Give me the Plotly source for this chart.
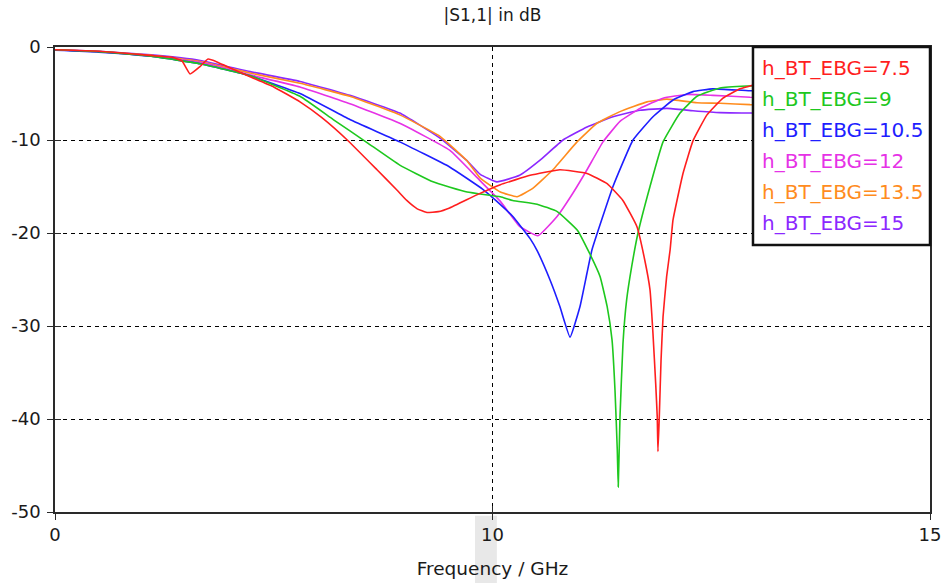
import plotly.graph_objects as go

# |S1,1| sweeps for several h_BT_EBG values (frequency in GHz, magnitude in dB)
freq_75 = [5.0, 5.5, 5.9, 6.2, 6.34, 6.451, 6.543, 6.657, 6.749, 6.851, 6.966, 7.23, 7.5, 7.8,
           8.05, 8.34, 8.68, 8.91, 9.02, 9.14, 9.25, 9.38, 9.51, 9.82, 10.09, 10.43, 10.77, 11.08,
           11.31, 11.49, 11.65, 11.74, 11.80, 11.834, 11.865, 11.883, 11.891, 11.906, 11.926,
           11.949, 11.99, 12.03, 12.063, 12.177, 12.291, 12.451, 12.634, 12.829, 13.023, 13.5,
           14.0, 15.0]
s11_75 = [-0.3, -0.45, -0.75, -1.0, -1.1, -1.5, -2.9, -2.1, -1.3, -1.6, -2.1, -3.2, -4.3, -5.9,
          -7.6, -10.0, -13.2, -15.4, -16.5, -17.4, -17.8, -17.7, -17.3, -15.9, -14.8, -13.8, -13.2,
          -13.6, -14.7, -16.5, -19.3, -22.9, -26.1, -30.8, -36.2, -39.8, -43.5, -39.8, -33.7,
          -29.0, -24.7, -21.8, -18.6, -13.6, -10.1, -7.3, -5.5, -4.5, -4.0, -3.6,
          -3.4, -3.3]

freq_9 = [5.0, 5.5, 6.1, 6.66, 7.23, 7.8, 8.18, 8.57, 8.94, 9.32, 9.71, 10.09, 10.23, 10.51,
          10.74, 10.97, 11.11, 11.23, 11.31, 11.366, 11.40, 11.426, 11.437, 11.457, 11.491,
          11.533, 11.591, 11.663, 11.80, 11.949, 12.143, 12.337, 12.60, 12.909, 13.5, 14.0, 15.0]
s11_9 = [-0.3, -0.5, -1.0, -1.8, -3.1, -5.3, -7.8, -10.3, -12.7, -14.5, -15.6, -16.1, -16.5, -16.9,
         -17.7, -19.7, -22.2, -24.7, -27.9, -31.5, -36.9, -43.3, -47.3, -39.8, -31.9,
         -27.2, -23.6, -20.0, -15.0, -10.2, -7.1, -5.3, -4.4, -4.2, -4.1, -4.1, -4.2]

freq_105 = [5.0, 5.5, 6.1, 6.66, 7.23, 7.8, 8.37, 8.94, 9.51, 9.89, 10.05, 10.23, 10.43, 10.51,
            10.66, 10.77, 10.886, 11.0, 11.08, 11.137, 11.377, 11.606, 11.834, 12.063, 12.291,
            12.52, 12.943, 13.5, 14.0, 15.0]
s11_105 = [-0.35, -0.55, -1.0, -1.8, -3.1, -5.0, -7.8, -10.2, -12.9, -15.3, -16.6, -18.2, -20.6, -21.9,
           -25.1, -27.9, -31.2, -27.9, -24.3, -21.8, -15.0, -10.0, -7.5, -5.7, -4.8,
           -4.5, -4.7, -4.7, -4.7, -4.8]

freq_12 = [5.0, 5.5, 6.1, 6.66, 7.23, 7.8, 8.37, 8.94, 9.51, 9.86, 10.09, 10.31, 10.52, 10.74,
           10.92, 11.08, 11.263, 11.457, 11.686, 11.949, 12.223, 12.52, 12.943, 13.5, 14.0, 15.0]
s11_12 = [-0.3, -0.5, -0.95, -1.65, -3.0, -4.3, -6.1, -8.2, -11.1, -14.4, -16.6, -19.3, -20.3, -18.2,
          -15.7, -13.2, -10.2, -8.0, -6.6, -5.5, -5.1, -5.2, -5.4, -5.5, -5.5, -5.6]

freq_135 = [5.0, 5.5, 6.1, 6.66, 7.23, 7.8, 8.37, 8.94, 9.4, 9.705, 9.86, 10.09, 10.28, 10.46,
            10.69, 10.966, 11.194, 11.457, 11.766, 11.994, 12.337, 12.6, 12.943, 13.5, 14.0, 15.0]
s11_135 = [-0.3, -0.5, -0.9, -1.55, -2.8, -3.9, -5.3, -7.3, -9.6, -12.2, -14.1, -15.6, -16.1, -15.2,
           -13.2, -10.2, -8.2, -6.95, -5.9, -5.6, -6.0, -6.05, -6.2, -6.3, -6.3, -6.4]

freq_15 = [5.0, 5.5, 6.1, 6.66, 7.23, 7.8, 8.37, 8.94, 9.4, 9.705, 9.86, 10.05, 10.31, 10.54,
           10.806, 11.08, 11.377, 11.686, 11.994, 12.291, 12.6, 12.943, 13.5, 14.0, 15.0]
s11_15 = [-0.3, -0.45, -0.85, -1.45, -2.65, -3.7, -5.2, -7.1, -9.8, -12.2, -13.7, -14.5, -13.8, -12.2,
          -10.0, -8.6, -7.5, -6.8, -6.6, -6.85, -7.06, -7.1, -7.2, -7.2, -7.3]

series_names = ["h_BT_EBG=7.5", "h_BT_EBG=9", "h_BT_EBG=10.5",
                "h_BT_EBG=12", "h_BT_EBG=13.5", "h_BT_EBG=15"]
series_freq = [freq_75, freq_9, freq_105, freq_12, freq_135, freq_15]
series_s11 = [s11_75, s11_9, s11_105, s11_12, s11_135, s11_15]
series_colors = ["#ff1e1e", "#1ec81e", "#1e1eff", "#e632e6", "#ff8c1e", "#8c28ff"]

x_tickvals = [5, 10, 15]
x_ticktext = ["0", "10", "15"]
y_tickvals = [-50, -40, -30, -20, -10, 0]
y_ticktext = ["-50", "-40", "-30", "-20", "-10", "0"]

FONT = "DejaVu Sans, Verdana, sans-serif"

fig = go.Figure()

# draw in reverse so the first series ends up on top
for name, fx, sy, col in reversed(list(zip(series_names, series_freq, series_s11, series_colors))):
    fig.add_trace(go.Scatter(
        x=fx, y=sy, name=name, mode="lines",
        line=dict(color=col, width=1.6, shape="spline", smoothing=0.35),
        showlegend=False,
    ))

# carrier trace for the overlay axes that draw the inner half of each tick
fig.add_trace(go.Scatter(x=[freq_75[0]], y=[s11_75[0]], xaxis="x2", yaxis="y2",
                         mode="lines", showlegend=False, hoverinfo="skip",
                         line=dict(color="rgba(0,0,0,0)")))

axis_common = dict(
    showline=True, linecolor="#2a2a2a", linewidth=1.5, mirror=True,
    ticks="outside", ticklen=6, tickwidth=1.3, tickcolor="#2a2a2a",
    showgrid=True, gridcolor="#000000", gridwidth=1.2, griddash="4px,4px",
    zeroline=False, automargin=False, ticklabeloverflow="allow",
    tickfont=dict(family=FONT, size=18, color="#1a1a1a"),
)

fig.update_layout(
    width=941, height=583,
    margin=dict(l=55, r=11, t=47, b=71),
    paper_bgcolor="white", plot_bgcolor="white",
    showlegend=False,
    font=dict(family=FONT, size=18, color="#1a1a1a"),
    title=dict(text="|S1,1| in dB", x=0.5, xref="paper", y=1 - 15 / 583, yref="container",
               xanchor="center", yanchor="middle", automargin=False,
               font=dict(family=FONT, size=17, color="#1a1a1a")),
    xaxis=dict(range=[5, 15], tickvals=x_tickvals, ticktext=x_ticktext,
               title=dict(text="Frequency / GHz", font=dict(family=FONT, size=18.5), standoff=18),
               **axis_common),
    yaxis=dict(range=[-50, 0], tickvals=y_tickvals, ticktext=y_ticktext, ticklabelstandoff=3,
               **axis_common),
    xaxis2=dict(overlaying="x", matches="x", range=[5, 15], tickvals=x_tickvals,
                ticks="inside", ticklen=6, tickwidth=1.3, tickcolor="#2a2a2a", automargin=False,
                showticklabels=False, showgrid=False, showline=False, zeroline=False),
    yaxis2=dict(overlaying="y", matches="y", range=[-50, 0], tickvals=y_tickvals,
                ticks="inside", ticklen=6, tickwidth=1.3, tickcolor="#2a2a2a", automargin=False,
                showticklabels=False, showgrid=False, showline=False, zeroline=False),
)

# faint grey strip under the x axis around the 10 GHz label
fig.add_shape(type="rect", xref="paper", yref="paper", x0=0.48, x1=0.505, y0=-0.008, y1=-0.16,
              fillcolor="#e8e8e8", line=dict(width=0), layer="below")

# boxed legend with coloured entry names, drawn over the curves
fig.add_shape(type="rect", xref="paper", yref="paper", x0=0.7977, x1=1.0, y0=0.574, y1=1.0,
              fillcolor="white", line=dict(color="#111111", width=2.5), layer="above")
legend_top = 0.9548
legend_step = 31 / 465
for i, (name, col) in enumerate(zip(series_names, series_colors)):
    fig.add_annotation(text=name, xref="paper", yref="paper", x=0.8057, y=legend_top - i * legend_step,
                       xanchor="left", yanchor="middle", showarrow=False,
                       font=dict(family=FONT, size=20, color=col))

fig.write_html("out.html")
